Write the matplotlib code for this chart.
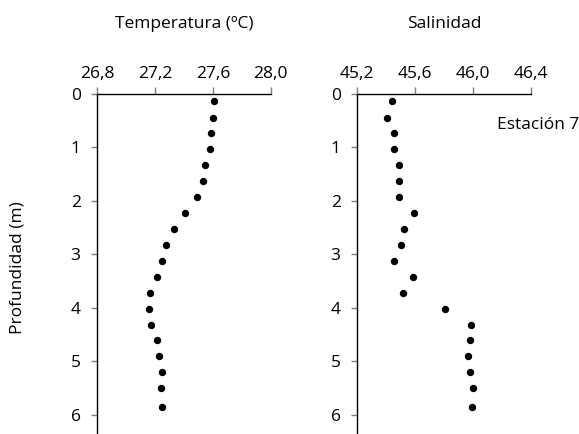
import matplotlib
matplotlib.use("Agg")
import matplotlib.pyplot as plt

plt.rcParams['font.family'] = ['Open Sans', 'DejaVu Sans']

# profundidad de cada muestra (m)
PROFUNDIDAD = [0.14, 0.44, 0.73, 1.03, 1.33, 1.62, 1.92, 2.22, 2.52, 2.82,
               3.12, 3.42, 3.72, 4.02, 4.32, 4.61, 4.91, 5.21, 5.51, 5.86]
TEMPERATURA = [27.605, 27.600, 27.590, 27.580, 27.545, 27.530, 27.490, 27.410, 27.330, 27.275,
               27.245, 27.210, 27.165, 27.156, 27.170, 27.210, 27.230, 27.250, 27.240, 27.250]
SALINIDAD = [45.441, 45.402, 45.450, 45.450, 45.485, 45.485, 45.490, 45.590, 45.524, 45.503,
             45.455, 45.586, 45.517, 45.802, 45.984, 45.977, 45.961, 45.979, 45.995, 45.993]

TEMP_TICKS = [26.8, 27.2, 27.6, 28.0]
SAL_TICKS = [45.2, 45.6, 46.0, 46.4]
PROF_TICKS = [0, 1, 2, 3, 4, 5, 6]

W, H = 579, 434
FS = 12.5
fig = plt.figure(figsize=(W / 100, H / 100), dpi=100)


def panel(x0, x1, xs, ticks, titulo):
    ax = fig.add_axes([x0 / W, 1 - 436 / H, (x1 - x0) / W, (436 - 94) / H])
    ax.plot(xs, PROFUNDIDAD, 'o', color='black', ms=4.3, mec='black')
    ax.set_xlim(ticks[0], ticks[-1])
    ax.set_ylim(6.4, 0)
    ax.xaxis.tick_top()
    ax.set_xticks(ticks)
    ax.set_xticklabels([('%.1f' % t).replace('.', ',') for t in ticks])
    ax.set_yticks(PROF_TICKS)
    ax.spines['right'].set_visible(False)
    ax.spines['bottom'].set_visible(False)
    for s in ('top', 'left'):
        ax.spines[s].set_linewidth(1.0)
    ax.tick_params(axis='x', direction='out', length=5, width=1, pad=4,
                   labelsize=FS, colors='#7f7f7f', labelcolor='black')
    ax.tick_params(axis='y', direction='out', length=4, width=1, pad=8,
                   labelsize=FS, colors='#7f7f7f', labelcolor='black')
    fig.text((x0 + x1) / 2 / W, 1 - 24 / H, titulo, ha='center', va='center', fontsize=FS)
    return ax


ax1 = panel(97.3, 270.7, TEMPERATURA, TEMP_TICKS, 'Temperatura (ºC)')
ax2 = panel(357.3, 531.3, SALINIDAD, SAL_TICKS, 'Salinidad')

fig.text(18 / W, 1 - 268 / H, 'Profundidad (m)', rotation=90, ha='center', va='center', fontsize=FS)
fig.text(579 / W, 1 - 125 / H, 'Estación 7', ha='right', va='center', fontsize=FS)

fig.savefig('out.png', dpi=100)
